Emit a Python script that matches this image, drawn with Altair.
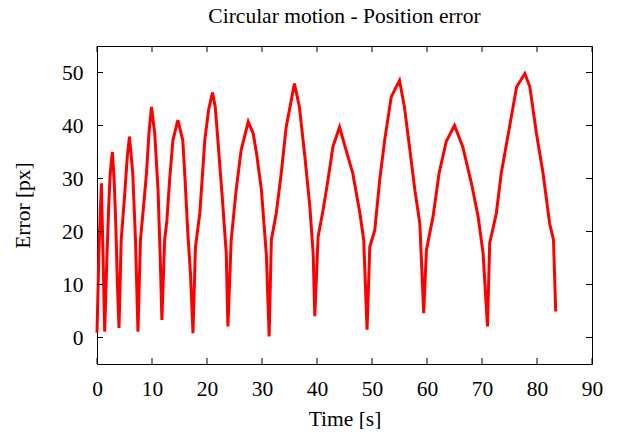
import altair as alt
import pandas as pd

time_s = [0.0, 0.4, 0.8, 1.0, 1.4, 1.8, 2.1, 2.4, 2.8, 3.1, 3.4, 3.7, 4.0,
          4.4, 5.0, 5.5, 5.9, 6.5, 7.0, 7.45,
          7.9, 8.4, 9.0, 9.45, 9.9, 10.5, 11.1, 11.5, 11.8,
          12.3, 12.7, 13.2, 13.8, 14.7, 15.6, 16.0, 16.5, 17.0, 17.45,
          17.9, 18.7, 19.6, 20.3, 21.0, 21.5, 22.0, 22.9, 23.5, 23.8,
          24.4, 25.3, 26.2, 27.5, 28.4, 29.0, 29.9, 30.8, 31.3,
          31.7, 32.6, 33.5, 34.4, 35.9, 36.8, 37.8, 38.7, 39.3, 39.6,
          40.2, 41.1, 42.0, 42.9, 44.1, 45.3, 46.5, 47.8, 48.5, 49.1,
          49.6, 50.5, 51.4, 52.3, 53.5, 55.0, 55.9, 56.9, 57.8, 58.7, 59.4,
          59.9, 61.1, 62.2, 63.5, 65.0, 66.5, 68.1, 69.3, 70.2, 71.0,
          71.4, 72.6, 73.5, 75.0, 76.3, 77.8, 78.7, 79.9, 81.1, 82.3, 83.0, 83.4]
error_px = [0.9, 18, 29.1, 20, 1.1, 15, 24, 31, 35, 30, 22, 10.5, 1.8,
            18.4, 26.5, 34, 37.9, 31, 18.4, 1.1,
            18.4, 24, 31, 38.5, 43.5, 38.5, 27.8, 15, 3.3,
            18.4, 22, 29.7, 37.2, 41, 37.2, 30, 20, 12, 0.8,
            17, 23.5, 37.2, 43, 46.2, 43.5, 37, 24.7, 15.9, 2.1,
            18.4, 27.8, 35.3, 40.7, 38.5, 34.8, 27.8, 15.5, 0.2,
            18.4, 23.5, 31, 39.7, 47.9, 43.5, 34.1, 24.7, 15.9, 4.0,
            19, 24, 29.7, 36, 39.7, 35.3, 31, 23.5, 18.4, 1.45,
            17.1, 20.2, 29.7, 37.2, 45.4, 48.5, 43.5, 35.3, 27.8, 21.5, 4.6,
            16.5, 22.8, 31, 37, 40, 36, 29, 22.8, 15.9, 2.1,
            17.8, 23.4, 31, 39.7, 47.3, 49.8, 47.3, 38.5, 31, 21.5, 18.4, 4.9]

x_ticks = [0, 10, 20, 30, 40, 50, 60, 70, 80, 90]
y_ticks = [0, 10, 20, 30, 40, 50]

W, H = 495, 318
FONT = "Liberation Serif"
FS = 21.5
TL = 6

df = pd.DataFrame({"t": time_s, "e": error_px, "i": range(len(time_s))})
xt = pd.DataFrame({"v": x_ticks})
yt = pd.DataFrame({"v": y_ticks})

xscale = alt.Scale(domain=[0, 90], nice=False, zero=False)
yscale = alt.Scale(domain=[-5, 55], nice=False, zero=False)

line = alt.Chart(df).mark_line(color="#ff0000", strokeWidth=3, strokeJoin="miter").encode(
    x=alt.X("t:Q", scale=xscale,
            axis=alt.Axis(title="Time [s]", values=x_ticks, ticks=False, domain=False, grid=False,
                          labelFont=FONT, labelFontSize=FS, labelColor="black",
                          labelPadding=31, labelBaseline="alphabetic", labelFlush=False,
                          titleFont=FONT, titleFontSize=FS, titleFontWeight="normal", titleColor="black",
                          titleX=W / 2, titleY=61, titleBaseline="alphabetic")),
    y=alt.Y("e:Q", scale=yscale,
            axis=alt.Axis(title="Error [px]", values=y_ticks, ticks=False, domain=False, grid=False,
                          labelFont=FONT, labelFontSize=FS, labelColor="black",
                          labelPadding=14, labelOffset=1, labelFlush=False,
                          titleFont=FONT, titleFontSize=FS, titleFontWeight="normal", titleColor="black",
                          titleX=-68, titleY=H / 2, titleBaseline="alphabetic", titleAngle=-90)),
    order="i:Q",
)

tick_style = dict(color="black", strokeWidth=1)
xb = alt.Chart(xt).mark_rule(**tick_style).encode(
    x=alt.X("v:Q", scale=xscale), y=alt.value(H), y2=alt.value(H - TL))
xtop = alt.Chart(xt).mark_rule(**tick_style).encode(
    x=alt.X("v:Q", scale=xscale), y=alt.value(0), y2=alt.value(TL))
yl = alt.Chart(yt).mark_rule(**tick_style).encode(
    y=alt.Y("v:Q", scale=yscale), x=alt.value(0), x2=alt.value(TL))
yr = alt.Chart(yt).mark_rule(**tick_style).encode(
    y=alt.Y("v:Q", scale=yscale), x=alt.value(W), x2=alt.value(W - TL))

chart = alt.layer(line, xb, xtop, yl, yr).properties(
    width=W, height=H,
    background="white",
    title=alt.TitleParams("Circular motion - Position error", font=FONT, fontSize=FS,
                          fontWeight="normal", color="black", offset=1, baseline="alphabetic",
                          anchor="middle"),
    autosize=alt.AutoSizeParams(type="none"),
    padding={"left": 89, "top": 38, "right": 20, "bottom": 65},
).configure_view(stroke="black", strokeWidth=1)

chart.save("out.html", embed_options={"renderer": "svg", "actions": False})
